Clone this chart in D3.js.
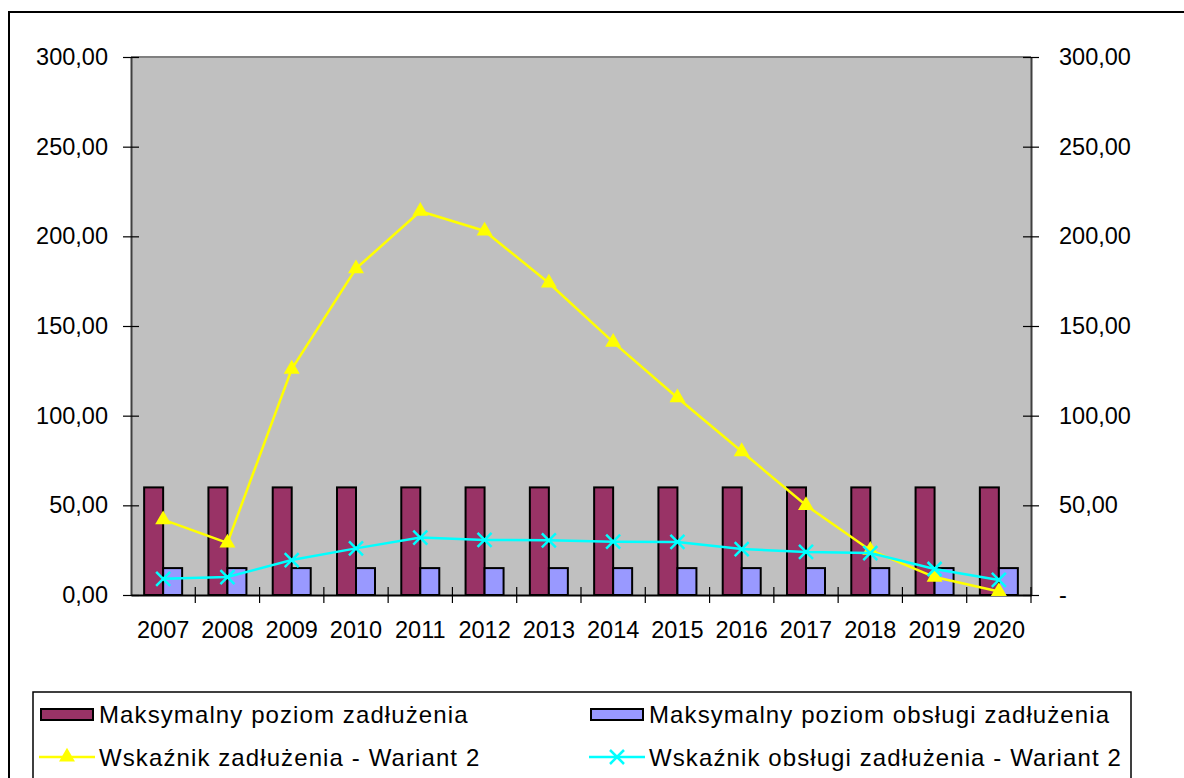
<!DOCTYPE html>
<html>
<head>
<meta charset="utf-8">
<script src="https://cdn.jsdelivr.net/npm/d3@7"></script>
<style>
  body { margin: 0; background: #fff; }
  svg { display: block; font-family: "Liberation Sans", Arial, sans-serif; }
</style>
</head>
<body>
<div id="chart"></div>
<script>
// data
const years = ["2007", "2008", "2009", "2010", "2011", "2012", "2013", "2014", "2015", "2016", "2017", "2018", "2019", "2020"];
const maxDebt = [60, 60, 60, 60, 60, 60, 60, 60, 60, 60, 60, 60, 60, 60];
const maxService = [15, 15, 15, 15, 15, 15, 15, 15, 15, 15, 15, 15, 15, 15];
const debtRatio = [42, 29, 126, 182, 214, 203, 174, 141, 110, 80, 50, 25, 10, 2];
const serviceRatio = [9, 10, 19.5, 26, 32, 30.7, 30.5, 29.7, 29.6, 25.6, 24, 23.4, 14.5, 8.4];
const yTicks = [0, 50, 100, 150, 200, 250, 300];

const legendItems = [
    { name: "Maksymalny poziom zadłużenia", type: "bar", color: "#993366" },
    { name: "Maksymalny poziom obsługi zadłużenia", type: "bar", color: "#9999FF" },
    { name: "Wskaźnik zadłużenia - Wariant 2", type: "tri", color: "#FFFF00" },
    { name: "Wskaźnik obsługi zadłużenia - Wariant 2", type: "x", color: "#00FFFF" }
];

const width = 1184, height = 778;
const plot = { left: 131, right: 1031, top: 57, bottom: 595 };

const svg = d3.select("#chart").append("svg")
    .attr("width", width)
    .attr("height", height);

// outer frame (only top and left are inside the picture)
svg.append("path")
    .attr("d", `M9,${height + 5} L9,12 L${width + 5},12`)
    .attr("fill", "none")
    .attr("stroke", "#000")
    .attr("stroke-width", 2);

const x = d3.scaleBand().domain(years).range([plot.left, plot.right]);
const xInner = d3.scaleBand().domain(["a", "b"]).range([0, 38]);
const barOffset = (x.bandwidth() - 38) / 2;
const y = d3.scaleLinear().domain([0, 300]).range([plot.bottom, plot.top]);
const cx = d => x(d) + x.bandwidth() / 2;

// plot background
svg.append("rect")
    .attr("x", plot.left)
    .attr("y", plot.top)
    .attr("width", plot.right - plot.left)
    .attr("height", plot.bottom - plot.top)
    .attr("fill", "#C0C0C0");

svg.append("line")
    .attr("x1", plot.left).attr("x2", plot.right)
    .attr("y1", plot.top).attr("y2", plot.top)
    .attr("stroke", "#808080").attr("stroke-width", 2);

// bars
const bars = [
    { key: "a", values: maxDebt, color: "#993366" },
    { key: "b", values: maxService, color: "#9999FF" }
];
bars.forEach(s => {
    svg.append("g").selectAll("rect")
        .data(years)
        .enter()
        .append("rect")
        .attr("x", (d) => x(d) + barOffset + xInner(s.key))
        .attr("y", (d, i) => y(s.values[i]))
        .attr("width", xInner.bandwidth())
        .attr("height", (d, i) => plot.bottom - y(s.values[i]))
        .attr("fill", s.color)
        .attr("stroke", "#000")
        .attr("stroke-width", 2);
});

// axes
const fmt = v => d3.format(".2f")(v).replace(".", ",");

const leftAxis = svg.append("g")
    .attr("transform", `translate(${plot.left},0)`)
    .call(d3.axisLeft(y).tickValues(yTicks).tickSize(8).tickSizeOuter(0).tickFormat(fmt));

const rightAxis = svg.append("g")
    .attr("transform", `translate(${plot.right},0)`)
    .call(d3.axisRight(y).tickValues(yTicks).tickSize(8).tickSizeOuter(0)
        .tickFormat(v => v === 0 ? "-" : fmt(v)));

[leftAxis, rightAxis].forEach(g => {
    g.select(".domain").attr("stroke", "#404040").attr("stroke-width", 2);
    g.selectAll(".tick line").attr("stroke", "#000").attr("stroke-width", 1.2)
        .attr("x1", -8).attr("x2", 8);
    g.selectAll(".tick text").style("font-size", "23.5px").attr("fill", "#000");
});
leftAxis.selectAll(".tick text").attr("x", -23);
rightAxis.selectAll(".tick text").attr("x", 28);

const bottomAxis = svg.append("g")
    .attr("transform", `translate(0,${plot.bottom})`)
    .call(d3.axisBottom(x).tickSize(0).tickSizeOuter(0));
bottomAxis.select(".domain").attr("stroke", "#000").attr("stroke-width", 2);
bottomAxis.selectAll(".tick text")
    .attr("y", 43)
    .attr("dy", 0)
    .style("font-size", "23.5px")
    .attr("fill", "#000");

// category separator ticks
svg.append("g").selectAll("line")
    .data(years.slice(1).concat(["end"]))
    .enter()
    .append("line")
    .attr("x1", (d) => d === "end" ? plot.right : x(d))
    .attr("x2", (d) => d === "end" ? plot.right : x(d))
    .attr("y1", plot.bottom - 8)
    .attr("y2", plot.bottom + 8)
    .attr("stroke", "#000")
    .attr("stroke-width", 1.2);

// lines
const line = d3.line().x(d => cx(d.year)).y(d => y(d.v));
const triangle = d3.symbol().type(d3.symbolTriangle).size(110);

function drawX(g, px, py, color, r) {
    g.append("path")
        .attr("d", `M${px - r},${py - r}L${px + r},${py + r}M${px - r},${py + r}L${px + r},${py - r}`)
        .attr("stroke", color)
        .attr("stroke-width", 2.5)
        .attr("fill", "none");
}

const debtData = years.map((yr, i) => ({ year: yr, v: debtRatio[i] }));
const serviceData = years.map((yr, i) => ({ year: yr, v: serviceRatio[i] }));

svg.append("path")
    .datum(debtData)
    .attr("d", line)
    .attr("fill", "none")
    .attr("stroke", "#FFFF00")
    .attr("stroke-width", 2.5);

svg.append("g").selectAll("path")
    .data(debtData)
    .enter()
    .append("path")
    .attr("d", triangle)
    .attr("transform", (d) => `translate(${cx(d.year)},${y(d.v)})`)
    .attr("fill", "#FFFF00");

svg.append("path")
    .datum(serviceData)
    .attr("d", line)
    .attr("fill", "none")
    .attr("stroke", "#00FFFF")
    .attr("stroke-width", 2.5);

const xMarks = svg.append("g");
serviceData.forEach(d => drawX(xMarks, cx(d.year), y(d.v), "#00FFFF", 7));

// legend
const legend = svg.append("g");
legend.append("rect")
    .attr("x", 33).attr("y", 692)
    .attr("width", 1098).attr("height", 120)
    .attr("fill", "#fff")
    .attr("stroke", "#000")
    .attr("stroke-width", 1.5);

const legendPos = [
    { x: 39, y: 714 }, { x: 589, y: 714 },
    { x: 39, y: 757 }, { x: 589, y: 757 }
];

legendItems.forEach((item, i) => {
    const p = legendPos[i];
    if (item.type === "bar") {
        legend.append("rect")
            .attr("x", p.x + 2).attr("y", p.y - 5)
            .attr("width", 52).attr("height", 11)
            .attr("fill", item.color)
            .attr("stroke", "#000")
            .attr("stroke-width", 2);
    } else {
        legend.append("line")
            .attr("x1", p.x).attr("x2", p.x + 56)
            .attr("y1", p.y).attr("y2", p.y)
            .attr("stroke", item.color)
            .attr("stroke-width", 2.5);
        if (item.type === "tri") {
            legend.append("path")
                .attr("d", triangle)
                .attr("transform", `translate(${p.x + 28},${p.y})`)
                .attr("fill", item.color);
        } else {
            drawX(legend, p.x + 28, p.y, item.color, 7);
        }
    }
    legend.append("text")
        .attr("x", p.x + 60)
        .attr("y", p.y + 9)
        .style("font-size", "24px")
        .style("letter-spacing", "1.1px")
        .attr("fill", "#000")
        .text(item.name);
});
</script>
</body>
</html>
